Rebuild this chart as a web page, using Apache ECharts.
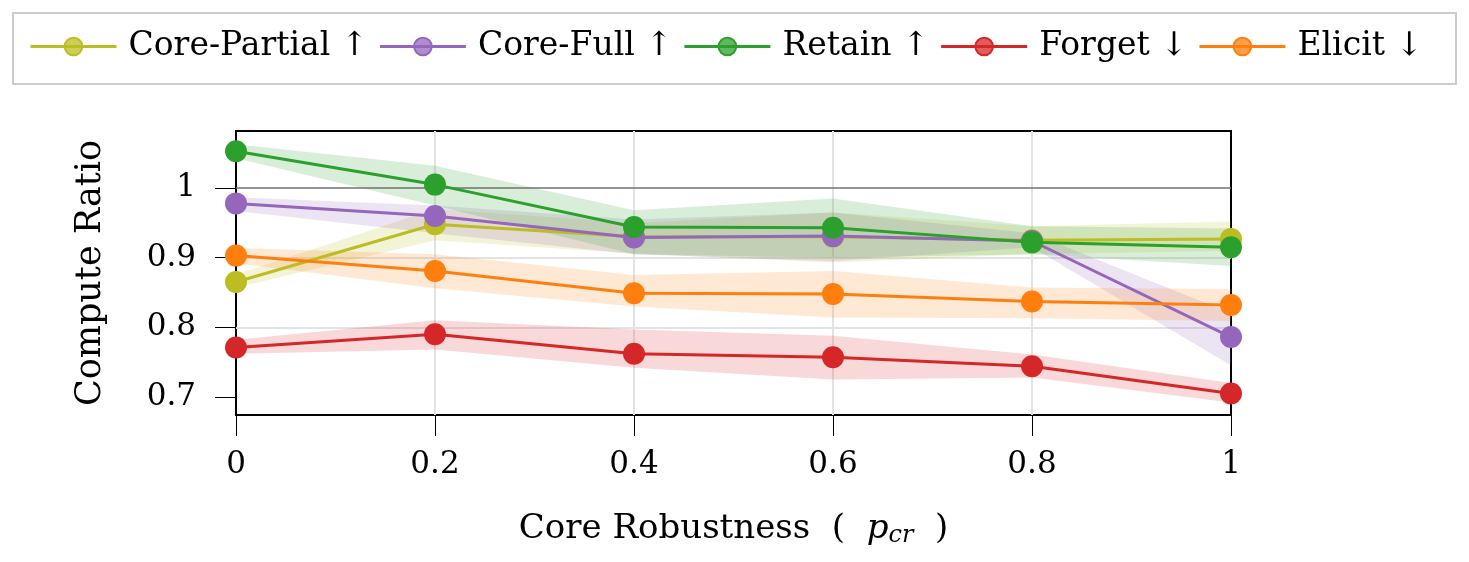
<!DOCTYPE html>
<html>
<head>
<meta charset="utf-8">
<script src="https://cdn.jsdelivr.net/npm/echarts@6/dist/echarts.min.js"></script>
<style>
  html, body { margin: 0; padding: 0; background: #fff; }
  #chart { width: 1469px; height: 562px; }
</style>
</head>
<body>
<div id="chart"></div>
<script>
// x categories (core robustness p_cr), evenly spaced
const xLabels = ['0', '0.2', '0.4', '0.6', '0.8', '1'];
const yTicks = [0.7, 0.8, 0.9, 1];

// mean values
const corePartial = [0.865, 0.948, 0.930, 0.930, 0.925, 0.927];
const coreFull = [0.978, 0.960, 0.929, 0.931, 0.924, 0.786];
const retain = [1.053, 1.005, 0.944, 0.943, 0.922, 0.915];
const forget = [0.771, 0.790, 0.762, 0.757, 0.744, 0.705];
const elicit = [0.903, 0.881, 0.849, 0.848, 0.837, 0.832];

// shaded band bounds
const corePartialLo = [0.857, 0.925, 0.906, 0.893, 0.905, 0.910];
const corePartialHi = [0.876, 0.970, 0.950, 0.965, 0.945, 0.952];
const coreFullLo = [0.967, 0.935, 0.905, 0.895, 0.915, 0.745];
const coreFullHi = [0.987, 0.975, 0.955, 0.965, 0.935, 0.820];
const retainLo = [1.043, 0.975, 0.905, 0.900, 0.905, 0.888];
const retainHi = [1.063, 1.032, 0.968, 0.985, 0.945, 0.942];
const forgetLo = [0.762, 0.768, 0.742, 0.725, 0.728, 0.692];
const forgetHi = [0.782, 0.810, 0.797, 0.788, 0.761, 0.720];
const elicitLo = [0.892, 0.856, 0.830, 0.814, 0.813, 0.809];
const elicitHi = [0.914, 0.905, 0.875, 0.881, 0.857, 0.855];

const names = ['Core-Partial ↑', 'Core-Full ↑', 'Retain ↑', 'Forget ↓', 'Elicit ↓'];
const colors = ['#bcbd22', '#9467bd', '#2ca02c', '#d62728', '#ff7f0e'];
const means = [corePartial, coreFull, retain, forget, elicit];
const lows = [corePartialLo, coreFullLo, retainLo, forgetLo, elicitLo];
const highs = [corePartialHi, coreFullHi, retainHi, forgetHi, elicitHi];

const FONT = 'DejaVu Serif';

function hexToRgba(hex, a) {
  const n = parseInt(hex.slice(1), 16);
  return 'rgba(' + (n >> 16) + ',' + ((n >> 8) & 255) + ',' + (n & 255) + ',' + a + ')';
}

const series = [];

// bands: lower edge + stacked width
names.forEach((name, k) => {
  const lo = lows[k], hi = highs[k];
  series.push({
    name: name + ' lo',
    type: 'line',
    stack: 'band' + k,
    data: lo,
    symbol: 'none',
    lineStyle: { opacity: 0 },
    silent: true,
    z: 1
  });
  series.push({
    name: name + ' band',
    type: 'line',
    stack: 'band' + k,
    data: hi.map((v, i) => v - lo[i]),
    symbol: 'none',
    lineStyle: { opacity: 0 },
    areaStyle: { color: colors[k], opacity: 0.18 },
    silent: true,
    z: 1
  });
});

// reference line at 1
series.push({
  name: 'ref',
  type: 'line',
  data: [],
  z: 2,
  markLine: {
    silent: true,
    symbol: 'none',
    label: { show: false },
    lineStyle: { color: '#707070', width: 1.5, type: 'solid' },
    data: [{ yAxis: 1 }]
  }
});

// mean lines
names.forEach((name, k) => {
  series.push({
    name: name,
    type: 'line',
    data: means[k],
    symbol: 'circle',
    symbolSize: 22,
    showAllSymbol: true,
    color: colors[k],
    lineStyle: { width: 3, color: colors[k] },
    itemStyle: { color: colors[k] },
    z: 3 + k
  });
});

const chart = echarts.init(document.getElementById('chart'), null, { renderer: 'canvas' });
chart.setOption({
  animation: false,
  backgroundColor: '#fff',
  graphic: [{
    type: 'rect',
    shape: { x: 13, y: 13, width: 1443, height: 71 },
    style: { fill: 'none', stroke: '#cccccc', lineWidth: 2 },
    z: 0
  }],
  legend: {
    left: 29,
    top: 30,
    padding: 0,
    itemGap: 10,
    itemWidth: 86,
    itemHeight: 22,
    textStyle: { fontFamily: FONT, fontSize: 33, color: '#000', padding: [0, 0, 0, 7] },
    data: names.map((n, k) => ({
      name: n,
      itemStyle: { color: hexToRgba(colors[k], 0.75), borderColor: colors[k], borderWidth: 2 },
      lineStyle: { width: 3 }
    }))
  },
  grid: {
    left: 236,
    right: 238,
    top: 131,
    bottom: 147,
    show: true,
    borderColor: '#000',
    borderWidth: 2,
    containLabel: false
  },
  xAxis: {
    type: 'category',
    data: xLabels,
    boundaryGap: false,
    axisLine: { show: false },
    axisTick: { show: true, inside: false, length: 21, alignWithLabel: true, lineStyle: { color: '#000', width: 1 } },
    axisLabel: { margin: 34, fontFamily: FONT, fontSize: 31, color: '#000' },
    splitLine: { show: true, showMinLine: false, showMaxLine: false, interval: 0, lineStyle: { color: '#e3e3e3', width: 2 } },
    name: '{n|Core Robustness  (  }{i|p}{s|cr}{n|  )}',
    nameLocation: 'middle',
    nameGap: 95,
    nameTextStyle: {
      rich: {
        n: { fontFamily: FONT, fontSize: 34, color: '#000' },
        i: { fontFamily: FONT, fontSize: 34, fontStyle: 'italic', color: '#000' },
        s: { fontFamily: FONT, fontSize: 24, fontStyle: 'italic', color: '#000', padding: [14, 0, 0, 0] }
      }
    }
  },
  yAxis: {
    type: 'value',
    min: 0.674,
    max: 1.082,
    axisLine: { show: false },
    axisTick: { show: true, inside: false, length: 21, lineStyle: { color: '#000', width: 1 }, customValues: yTicks },
    axisLabel: { margin: 40, fontFamily: FONT, fontSize: 31, color: '#000', customValues: yTicks },
    splitLine: { show: true, showMinLine: false, showMaxLine: false, lineStyle: { color: '#e3e3e3', width: 2 } },
    name: 'Compute Ratio',
    nameLocation: 'middle',
    nameGap: 128,
    nameTextStyle: { fontFamily: FONT, fontSize: 35, color: '#000' }
  },
  series: series
});
</script>
</body>
</html>
